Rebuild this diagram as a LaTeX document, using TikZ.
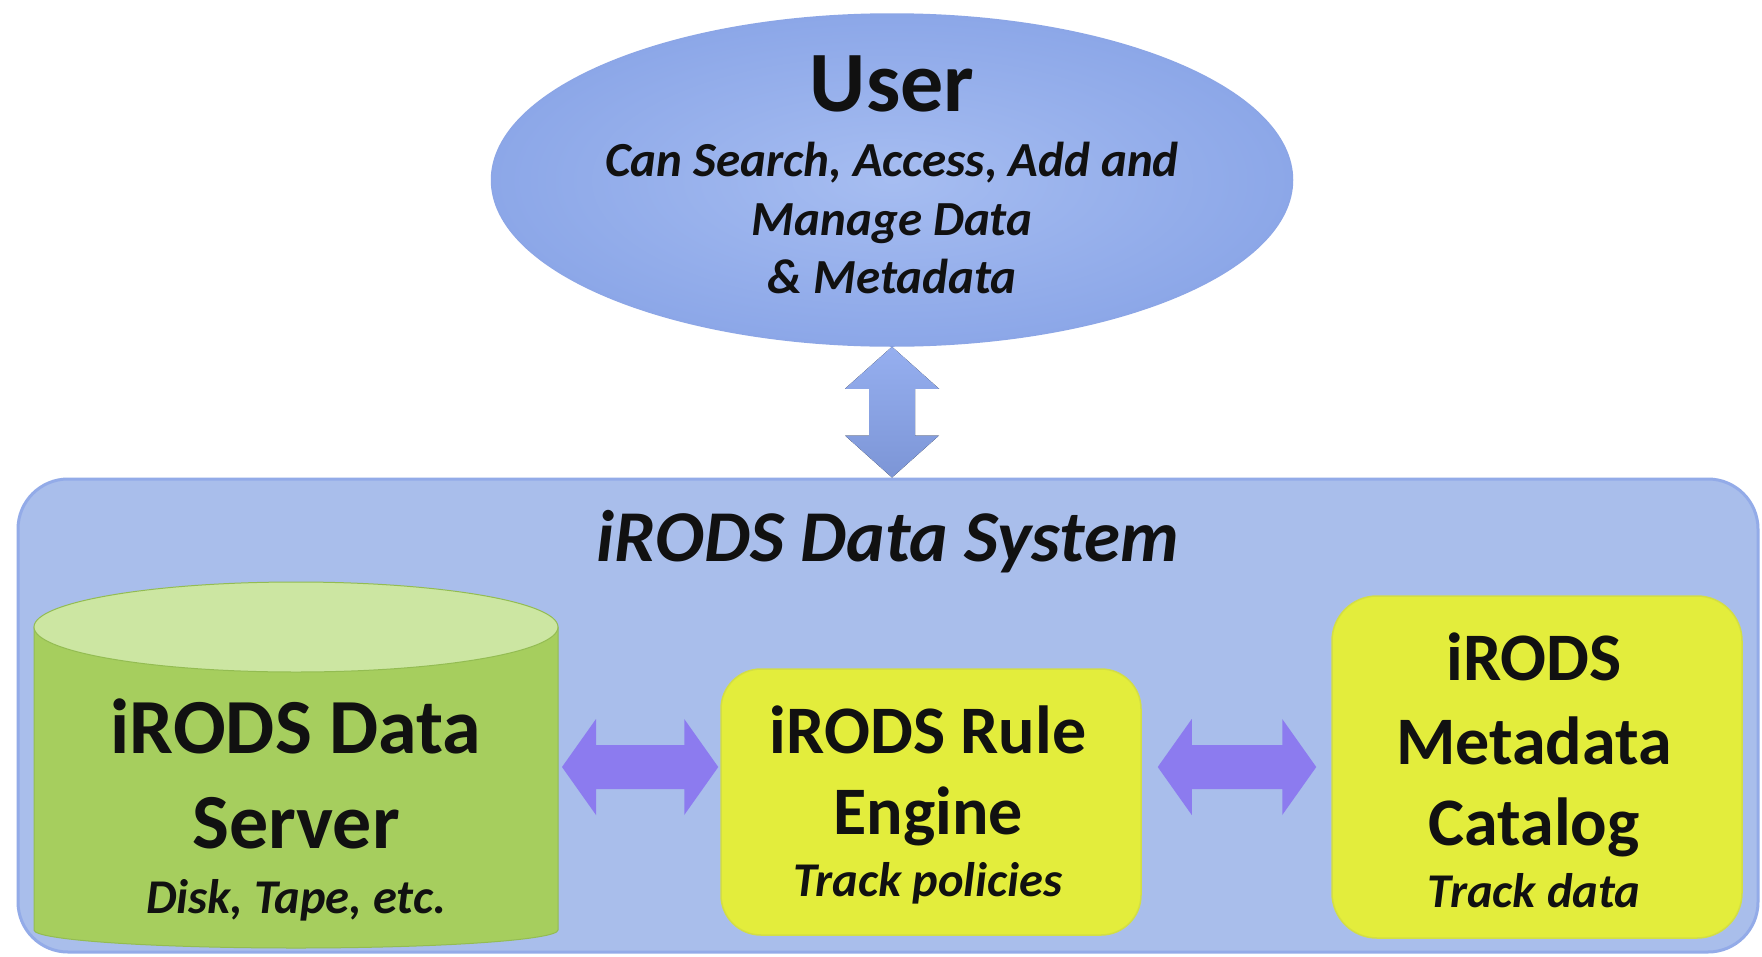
\documentclass[tikz,border=0pt]{standalone}
\usepackage{fontspec}
\setmainfont{Carlito}
\usetikzlibrary{calc,shapes.geometric}
\definecolor{sysfill}{HTML}{A9BEEB}
\definecolor{sysedge}{HTML}{93ABE8}
\definecolor{usrin}{HTML}{A6BDF1}
\definecolor{usrout}{HTML}{8CA7E8}
\definecolor{usredge}{HTML}{8CA6E6}
\definecolor{varrow}{HTML}{8AA6EE}
\definecolor{harrow}{HTML}{8C7BEF}
\definecolor{cylbody}{HTML}{A6CE5E}
\definecolor{cyltop}{HTML}{CCE6A2}
\definecolor{cyledge}{HTML}{93BC52}
\definecolor{yelfill}{HTML}{E3ED3C}
\definecolor{yeledge}{HTML}{D3DE45}
\definecolor{txt}{HTML}{111111}
\newcommand\hblockarrow[3]{%
  \fill[#3] let \p1=(#1), \p2=(#2) in
    (\x1,\y1) -- (\x1+34pt,\y1+48pt) -- (\x1+34pt,\y1+22pt) -- (\x2-34pt,\y2+22pt)
    -- (\x2-34pt,\y2+48pt) -- (\x2,\y2) -- (\x2-34pt,\y2-48pt) -- (\x2-34pt,\y2-22pt)
    -- (\x1+34pt,\y1-22pt) -- (\x1+34pt,\y1-48pt) -- cycle;}
\newcommand\vblockarrow[3]{%
  \fill[#3] let \p1=(#1), \p2=(#2) in
    (\x1,\y1) -- (\x1+47pt,\y1-42pt) -- (\x1+23pt,\y1-42pt) -- (\x2+23pt,\y2+42pt)
    -- (\x2+47pt,\y2+42pt) -- (\x2,\y2) -- (\x2-47pt,\y2+42pt) -- (\x2-23pt,\y2+42pt)
    -- (\x1-23pt,\y1-42pt) -- (\x1-47pt,\y1-42pt) -- cycle;}
\begin{document}
\begin{tikzpicture}[x=1pt,y=-1pt,
  sysbox/.style={draw=sysedge, line width=3pt, fill=sysfill, rounded corners=50pt, inner sep=0pt},
  userell/.style={ellipse, draw=usredge, line width=1.5pt, inner color=usrin, outer color=usrout, inner sep=0pt},
  yelbox/.style={draw=yeledge, line width=1.5pt, fill=yelfill, rounded corners=40pt, inner sep=0pt},
  lbl/.style={anchor=base, inner sep=0pt, text=txt},
  fuser/.style={lbl, font=\fontsize{86}{100}\selectfont\bfseries},
  fusub/.style={lbl, font=\fontsize{49}{58}\selectfont\bfseries\itshape},
  ftitle/.style={lbl, font=\fontsize{73}{86}\selectfont\bfseries\itshape},
  fbig/.style={lbl, font=\fontsize{78}{94}\selectfont\bfseries},
  fmid/.style={lbl, font=\fontsize{68}{80}\selectfont\bfseries},
  fsmall/.style={lbl, font=\fontsize{48.5}{58}\selectfont\bfseries\itshape},
  varrowsty/.style={top color=varrow!90!white, bottom color=varrow!90!black},
  harrowsty/.style={fill=harrow},
]
\useasboundingbox (0,0) rectangle (1762,956);
\fill[white] (0,0) rectangle (1762,956);

% system container
\node[sysbox, minimum width=1740pt, minimum height=473pt] (sys) at (888,715.5) {};
\node[ftitle] (systitle) at (888,561) {iRODS Data System};

% user
\node[userell, minimum width=801pt, minimum height=332pt] (user) at (892,180) {};
\node[fuser] (u1) at (892,111) {User};
\node[fusub] (u2) at (892,176) {Can Search, Access, Add and};
\node[fusub] (u3) at (892,235) {Manage Data};
\node[fusub] (u4) at (892,293) {\& Metadata};

% data server cylinder
\coordinate (srvtop) at (296,627);
\filldraw[fill=cylbody, draw=cyledge, line width=1pt]
  (34,627) -- (34,930) arc[start angle=180, end angle=360, x radius=262pt, y radius=18pt]
  -- (558,627) -- cycle;
\filldraw[fill=cyltop, draw=cyledge, line width=1pt] (srvtop) ellipse[x radius=262pt, y radius=45pt];
\coordinate (srv) at (558,767);
\node[fbig] (s1) at (296,753) {iRODS Data};
\node[fbig] (s2) at (296,848) {Server};
\node[fsmall] (s3) at (296,913) {Disk, Tape, etc.};

% rule engine
\node[yelbox, minimum width=420pt, minimum height=266pt] (rule) at (931,802) {};
\node[fmid] (r1) at (928,753) {iRODS Rule};
\node[fmid] (r2) at (928,834) {Engine};
\node[fsmall] (r3) at (928,896) {Track policies};

% metadata catalog
\node[yelbox, rounded corners=45pt, minimum width=410pt, minimum height=342pt] (cat) at (1537,767) {};
\node[fmid] (c1) at (1534,680) {iRODS};
\node[fmid] (c2) at (1534,764) {Metadata};
\node[fmid] (c3) at (1534,845) {Catalog};
\node[fsmall] (c4) at (1534,907) {Track data};

% connectors
\vblockarrow{user.south}{user.south |- sys.north}{varrowsty}
\hblockarrow{$(srv)+(4,0)$}{$(srv -| rule.west)+(-2,0)$}{harrowsty}
\hblockarrow{$(srv -| rule.east)+(16,0)$}{$(srv -| cat.west)+(-15,0)$}{harrowsty}
\end{tikzpicture}
\end{document}
